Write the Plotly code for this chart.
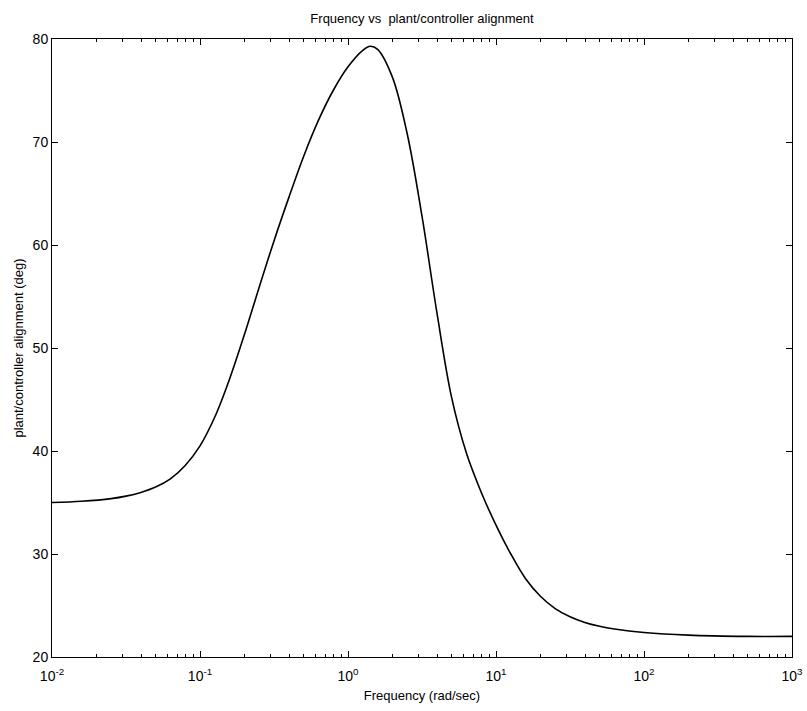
import plotly.graph_objects as go

# log10 of frequency (rad/sec) and alignment (deg)
log_freq = [-2.0, -1.8, -1.6, -1.5, -1.4, -1.3, -1.2, -1.1, -1.0, -0.9, -0.8, -0.7, -0.6, -0.5,
            -0.4, -0.3, -0.2, -0.1, 0.0, 0.1, 0.15, 0.2, 0.3, 0.4, 0.5, 0.6, 0.7,
            0.8, 0.9, 1.0, 1.1, 1.2, 1.3, 1.4, 1.5, 1.6, 1.7, 1.8, 2.0, 2.3, 2.7, 3.0]
alignment = [35.0, 35.12, 35.38, 35.62, 35.98, 36.5, 37.3, 38.6, 40.5, 43.3, 47.0, 51.3, 55.9, 60.4,
             64.6, 68.6, 72.1, 75.0, 77.3, 78.9, 79.3, 79.0, 76.3, 70.8, 62.8, 53.5, 45.2,
             39.8, 36.0, 32.8, 30.0, 27.6, 25.9, 24.7, 23.9, 23.35, 22.98, 22.72, 22.38, 22.12, 22.0, 22.0]
freq = [10 ** v for v in log_freq]

x_tickvals = [0.01, 0.1, 1, 10, 100, 1000]
x_ticktext = ["10<sup>-2</sup>", "10<sup>-1</sup>", "10<sup>0</sup>", "10<sup>1</sup>", "10<sup>2</sup>", "10<sup>3</sup>"]
y_tickvals = [20, 30, 40, 50, 60, 70, 80]

fig = go.Figure()
fig.add_trace(go.Scatter(x=freq, y=alignment, mode="lines",
                         line=dict(color="black", width=1.6, shape="spline", smoothing=1.0),
                         showlegend=False, hoverinfo="skip"))

font = dict(family="Liberation Sans, Arial, sans-serif", size=12, color="black")

fig.update_layout(
    width=807, height=711,
    margin=dict(l=52, r=15, t=39, b=54, autoexpand=False),
    paper_bgcolor="white", plot_bgcolor="white",
    font=font,
    title=dict(text="Frquency vs  plant/controller alignment", x=422 / 807, xanchor="center",
               y=1 - 18 / 711, yanchor="middle", font=dict(size=13)),
)
fig.update_xaxes(
    type="log", range=[-2, 3],
    tickvals=x_tickvals, ticktext=x_ticktext,
    ticks="inside", ticklen=6, tickcolor="black",
    minor=dict(ticks="inside", ticklen=3, tickcolor="black", dtick="D1"),
    showline=True, linecolor="black", linewidth=1, mirror="ticks",
    showgrid=False, zeroline=False, automargin=False,
    ticklabelstandoff=6,
    title=dict(text="Frequency (rad/sec)", standoff=8, font=dict(size=13)),
    tickfont=dict(size=14),
)
fig.update_yaxes(
    range=[20, 80], tickvals=y_tickvals,
    ticks="inside", ticklen=6, tickcolor="black",
    showline=True, linecolor="black", linewidth=1, mirror="ticks",
    showgrid=False, zeroline=False, automargin=False,
    title=dict(text="plant/controller alignment (deg)", standoff=6, font=dict(size=13)),
    tickfont=dict(size=14),
)

fig.write_html("out.html", config={"displayModeBar": False},
               post_script="document.body.style.margin='0px';")
